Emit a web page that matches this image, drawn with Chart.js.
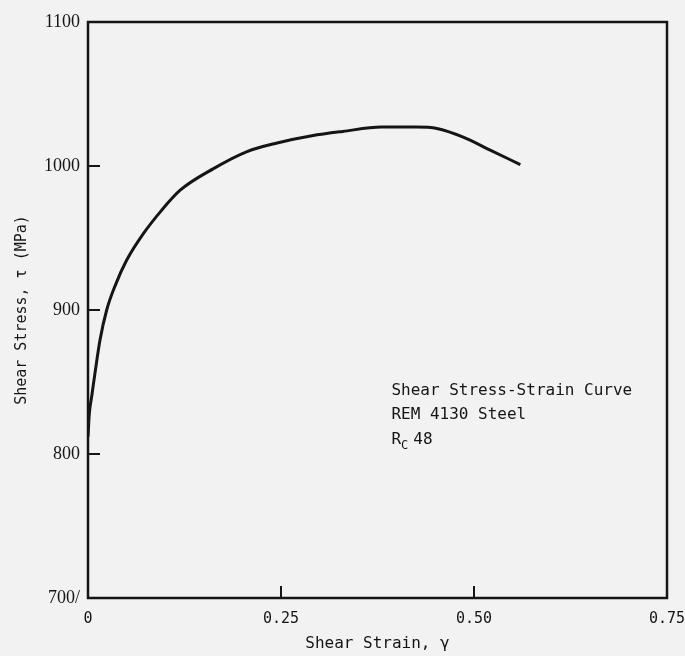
<!DOCTYPE html>
<html>
<head>
<meta charset="utf-8">
<script src="https://cdn.jsdelivr.net/npm/chart.js@4.4.0/dist/chart.umd.min.js"></script>
<style>
  html, body { margin: 0; padding: 0; background: #f2f2f2; }
  #wrap { width: 685px; height: 656px; }
</style>
</head>
<body>
<div id="wrap"><canvas id="chart" width="685" height="656"></canvas></div>
<script>
// --- DATA ---
const strain = [0, 0.0017, 0.0048, 0.009, 0.0155, 0.0242, 0.036, 0.050, 0.0717, 0.095, 0.119, 0.162, 0.206, 0.245, 0.29, 0.33, 0.38, 0.425, 0.452, 0.486, 0.521, 0.56];
const stress = [812, 828, 840, 856, 879, 900, 918, 934.5, 953, 969, 983, 998, 1010, 1016, 1021, 1024, 1027, 1027, 1026, 1020, 1011, 1001];

const xTicks = [0, 0.25, 0.5, 0.75];
const xTickLabels = ['0', '0.25', '0.50', '0.75'];
const yTicks = [700, 800, 900, 1000, 1100];
const yTickLabels = ['700/', '800', '900', '1000', '1100'];
const innerXTicks = [0.25, 0.5];
const innerYTicks = [800, 900, 1000];
const noteLines = ['Shear Stress-Strain Curve', 'REM 4130 Steel'];

const INK = '#151515';
const MONO = '"DejaVu Sans Mono", monospace';
const SERIF = '"Liberation Serif", serif';

// frame, inward ticks and the text note
const framePlugin = {
    id: 'frame',
    afterDraw(chart) {
        const ctx = chart.ctx;
        const a = chart.chartArea;
        const xs = chart.scales.x, ys = chart.scales.y;
        ctx.save();
        ctx.strokeStyle = INK;
        ctx.lineWidth = 2.5;
        ctx.strokeRect(a.left, a.top, a.right - a.left, a.bottom - a.top);
        ctx.lineWidth = 2;
        ctx.beginPath();
        innerXTicks.forEach(v => {
            const px = xs.getPixelForValue(v);
            ctx.moveTo(px, a.bottom);
            ctx.lineTo(px, a.bottom - 12);
        });
        innerYTicks.forEach(v => {
            const py = ys.getPixelForValue(v);
            ctx.moveTo(a.left, py);
            ctx.lineTo(a.left + 12, py);
        });
        ctx.stroke();

        // note text
        ctx.fillStyle = INK;
        ctx.font = '16px ' + MONO;
        ctx.textBaseline = 'alphabetic';
        const tx = xs.getPixelForValue(0.393);
        let ty = ys.getPixelForValue(841);
        noteLines.forEach(line => {
            ctx.fillText(line, tx, ty);
            ty += 24.5;
        });
        ctx.fillText('R', tx, ty);
        const rw = ctx.measureText('R').width;
        ctx.font = '12px ' + MONO;
        ctx.fillText('C', tx + rw, ty + 5);
        const cw = ctx.measureText('C').width;
        ctx.font = '16px ' + MONO;
        ctx.fillText('48', tx + rw + cw + 5, ty);
        ctx.restore();
    }
};

new Chart(document.getElementById('chart'), {
    type: 'scatter',
    data: {
        datasets: [{
            data: strain.map((s, i) => ({ x: s, y: stress[i] })),
            showLine: true,
            borderColor: INK,
            borderWidth: 3,
            pointRadius: 0,
            cubicInterpolationMode: 'monotone',
            fill: false
        }]
    },
    options: {
        responsive: false,
        animation: false,
        layout: { padding: { left: 0, top: 22, right: 0, bottom: 0 } },
        plugins: { legend: { display: false }, tooltip: { enabled: false } },
        scales: {
            x: {
                type: 'linear',
                min: 0, max: 0.75,
                afterBuildTicks: s => { s.ticks = xTicks.map(v => ({ value: v })); },
                afterFit: s => { s.height = 58; s.paddingRight = 18; s.paddingLeft = 0; },
                grid: { display: false, drawTicks: false, tickLength: 0 },
                border: { display: false },
                ticks: {
                    padding: 12,
                    color: INK,
                    font: { family: MONO, size: 15 },
                    callback: v => xTickLabels[xTicks.indexOf(v)]
                },
                title: {
                    display: true,
                    text: 'Shear Strain, γ',
                    color: INK,
                    font: { family: MONO, size: 16 },
                    padding: { top: 0, bottom: 3 }
                }
            },
            y: {
                type: 'linear',
                min: 700, max: 1100,
                afterBuildTicks: s => { s.ticks = yTicks.map(v => ({ value: v })); },
                afterFit: s => { s.width = 88; },
                grid: { display: false, drawTicks: false, tickLength: 0 },
                border: { display: false },
                ticks: {
                    padding: 8,
                    color: INK,
                    font: { family: SERIF, size: 18 },
                    callback: v => yTickLabels[yTicks.indexOf(v)]
                },
                title: {
                    display: true,
                    text: 'Shear Stress, τ (MPa)',
                    color: INK,
                    font: { family: MONO, size: 15 },
                    padding: { top: 13, bottom: 0 }
                }
            }
        }
    },
    plugins: [framePlugin]
});
</script>
</body>
</html>
